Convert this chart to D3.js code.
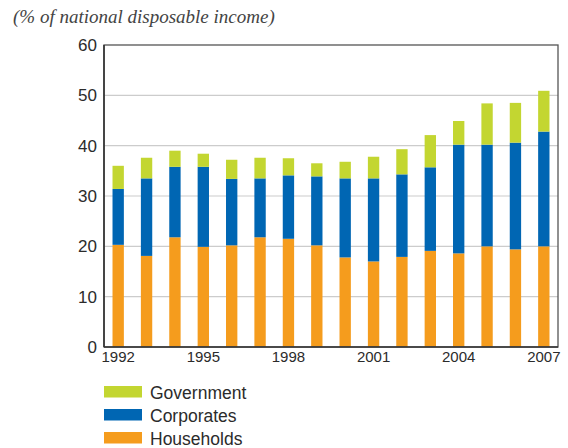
<!DOCTYPE html>
<html>
<head>
<meta charset="utf-8">
<script src="https://cdn.jsdelivr.net/npm/d3@7"></script>
<style>
  body { margin: 0; background: #fff; }
  svg text { font-family: "Liberation Sans", Arial, sans-serif; fill: #2b2b2b; }
</style>
</head>
<body>
<div id="chart"></div>
<script>
var svgWidth = 568;
var svgHeight = 448;

var margin = { top: 45, right: 10, bottom: 101, left: 104 };
var width = svgWidth - margin.left - margin.right;
var height = svgHeight - margin.top - margin.bottom;

// data
var years = ["1992", "1993", "1994", "1995", "1996", "1997", "1998", "1999",
  "2000", "2001", "2002", "2003", "2004", "2005", "2006", "2007"];
var households = [20.3, 18.1, 21.8, 19.9, 20.2, 21.8, 21.5, 20.2,
  17.8, 17.0, 17.9, 19.1, 18.6, 20.0, 19.4, 20.0];
var corporates = [11.1, 15.4, 14.0, 15.9, 13.2, 11.7, 12.6, 13.7,
  15.7, 16.5, 16.4, 16.6, 21.6, 20.2, 21.2, 22.8];
var government = [4.6, 4.1, 3.2, 2.6, 3.8, 4.1, 3.4, 2.6,
  3.3, 4.3, 5.0, 6.4, 4.7, 8.2, 7.9, 8.1];
var yTicks = [0, 10, 20, 30, 40, 50, 60];
var xTickYears = ["1992", "1995", "1998", "2001", "2004", "2007"];

var seriesNames = ["households", "corporates", "government"];
var labels = { households: "Households", corporates: "Corporates", government: "Government" };
var colors = { households: "#f59c1d", corporates: "#0066b3", government: "#c3d631" };

var table = years.map(function(y, i) {
  return { year: y, households: households[i], corporates: corporates[i], government: government[i] };
});

var svg = d3.select("#chart")
  .append("svg")
  .attr("width", svgWidth)
  .attr("height", svgHeight);

svg.append("text")
  .attr("x", 13)
  .attr("y", 23)
  .style("font-family", "'Liberation Serif', 'DejaVu Serif', serif")
  .style("font-style", "italic")
  .style("font-size", "19px")
  .style("fill", "#444")
  .text("(% of national disposable income)");

var chart = svg.append("g")
  .attr("transform", `translate(${margin.left}, ${margin.top})`);

var x = d3.scaleBand()
  .domain(years)
  .range([0, width])
  .paddingInner(0.6)
  .paddingOuter(0.3);

var y = d3.scaleLinear()
  .domain([0, 60])
  .range([height, 0]);

// gridlines
chart.append("g")
  .selectAll("line")
  .data(yTicks.filter(d => d > 0 && d < 60))
  .enter()
  .append("line")
  .attr("x1", 0)
  .attr("x2", width)
  .attr("y1", d => y(d))
  .attr("y2", d => y(d))
  .attr("stroke", "#cccccc")
  .attr("stroke-width", 1.2);

var stacked = d3.stack().keys(seriesNames)(table);

chart.selectAll("g.layer")
  .data(stacked)
  .enter()
  .append("g")
  .attr("class", "layer")
  .attr("fill", d => colors[d.key])
  .selectAll("rect")
  .data(d => d)
  .enter()
  .append("rect")
  .attr("x", d => x(d.data.year))
  .attr("width", x.bandwidth())
  .attr("y", d => y(d[1]))
  .attr("height", d => y(d[0]) - y(d[1]));

// frame
chart.append("rect")
  .attr("x", 0)
  .attr("y", 0)
  .attr("width", width)
  .attr("height", height)
  .attr("fill", "none")
  .attr("stroke", "#555")
  .attr("stroke-width", 1.3);

chart.append("line")
  .attr("x1", 0).attr("x2", 0)
  .attr("y1", 0).attr("y2", height)
  .attr("stroke", "#333").attr("stroke-width", 1.6);
chart.append("line")
  .attr("x1", 0).attr("x2", width)
  .attr("y1", height).attr("y2", height)
  .attr("stroke", "#333").attr("stroke-width", 1.6);

var yAxis = d3.axisLeft(y).tickValues(yTicks).tickSize(0).tickPadding(7);
var xAxis = d3.axisBottom(x).tickValues(xTickYears).tickSize(0).tickPadding(4);

chart.append("g")
  .call(yAxis)
  .call(g => g.select(".domain").remove())
  .selectAll("text")
  .style("font-family", "'Liberation Sans', Arial, sans-serif")
  .style("font-size", "17px")
  .style("fill", "#2b2b2b");

chart.append("g")
  .attr("transform", `translate(0, ${height})`)
  .call(xAxis)
  .call(g => g.select(".domain").remove())
  .selectAll("text")
  .style("font-family", "'Liberation Sans', Arial, sans-serif")
  .style("font-size", "15px")
  .style("fill", "#2b2b2b");

// legend
var legendOrder = ["government", "corporates", "households"];
var legend = svg.append("g")
  .attr("transform", "translate(104, 386)");

var item = legend.selectAll("g")
  .data(legendOrder)
  .enter()
  .append("g")
  .attr("transform", (d, i) => `translate(0, ${i * 23})`);

item.append("rect")
  .attr("width", 38)
  .attr("height", 11.5)
  .attr("fill", d => colors[d]);

item.append("text")
  .attr("x", 46)
  .attr("y", 12.5)
  .style("font-family", "'Liberation Sans', Arial, sans-serif")
  .style("font-size", "17.5px")
  .text(d => labels[d]);
</script>
</body>
</html>
